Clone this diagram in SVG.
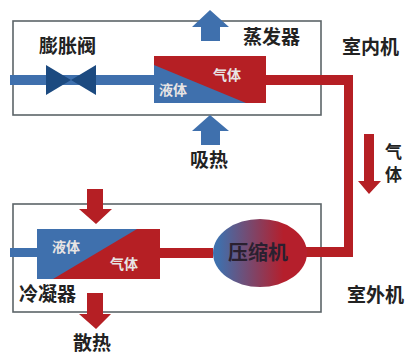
<svg xmlns="http://www.w3.org/2000/svg" width="405" height="354" viewBox="0 0 405 354">
<style>
text{font-family:"Noto Sans CJK SC",sans-serif;font-weight:700}
.l{font-size:19px;fill:#222}
.w{font-size:14px;fill:#e8e4e4}
.box{fill:none;stroke:#5c6468;stroke-width:1.6}
.blue{fill:#3f70ad}
.red{fill:#b51f24}
.navy{fill:#1c4a80}
</style>
<defs>
<linearGradient id="ball" x1="0" y1="0" x2="1" y2="0">
<stop offset="0.05" stop-color="#3f70ad"/>
<stop offset="0.75" stop-color="#b51f2c"/>
</linearGradient>
</defs>
<rect width="405" height="354" fill="#fff"/>
<g id="indoor"><rect class="box" x="13" y="21" width="308" height="94"/><text class="l" x="342" y="54">室内机</text></g>
<g id="outdoor"><rect class="box" x="13" y="204" width="308" height="108"/><text class="l" x="347" y="302">室外机</text></g>
<g id="connectors">
<rect class="blue" x="10" y="75" width="144" height="10"/>
<rect class="blue" x="10" y="248" width="27" height="9"/>
<rect class="red" x="160" y="248" width="53" height="10"/>
<path class="red" d="M266 75H353V257H300V247H344V85H266Z"/>
</g>
<g id="valve"><path class="navy" d="M46 65L71 80L96 65V95L71 80L46 95Z"/><text class="l" x="39" y="53">膨胀阀</text></g>
<g id="evaporator">
<rect class="red" x="154" y="56" width="112" height="47"/>
<path class="blue" d="M154 65L246 103H154Z"/>
<text class="w" x="213" y="80">气体</text><text class="w" x="159" y="95">液体</text>
<text class="l" x="243" y="44">蒸发器</text>
</g>
<g id="condenser">
<rect class="red" x="37" y="229" width="123" height="50"/>
<path class="blue" d="M37 229H137L53 279H37Z"/>
<text class="w" x="52" y="252">液体</text><text class="w" x="110" y="269">气体</text>
<text class="l" x="19" y="301">冷凝器</text>
</g>
<g id="compressor"><ellipse cx="260" cy="253" rx="47" ry="34" fill="url(#ball)"/><text x="228" y="260" font-size="20" fill="#2a2030">压缩机</text></g>
<g id="arrow-up-top"><path class="blue" d="M210 10L229 27H220V41H201V27H192Z"/></g>
<g id="arrow-up-bottom"><path class="blue" d="M210 115L229 131H220V145H201V131H192Z"/><text class="l" x="190" y="167">吸热</text></g>
<g id="arrow-gas"><path class="red" d="M364 134H374V181H381L369 194L358 181H364Z"/><text x="385" y="158" font-size="17" fill="#222">气</text><text x="385" y="181" font-size="17" fill="#222">体</text></g>
<g id="arrow-down-top"><path class="red" d="M87 189H103V209H112L96 224L79 209H87Z"/></g>
<g id="arrow-down-bottom"><path class="red" d="M87 293H103V314H111L96 329L79 314H87Z"/><text class="l" x="73" y="350">散热</text></g>
</svg>
